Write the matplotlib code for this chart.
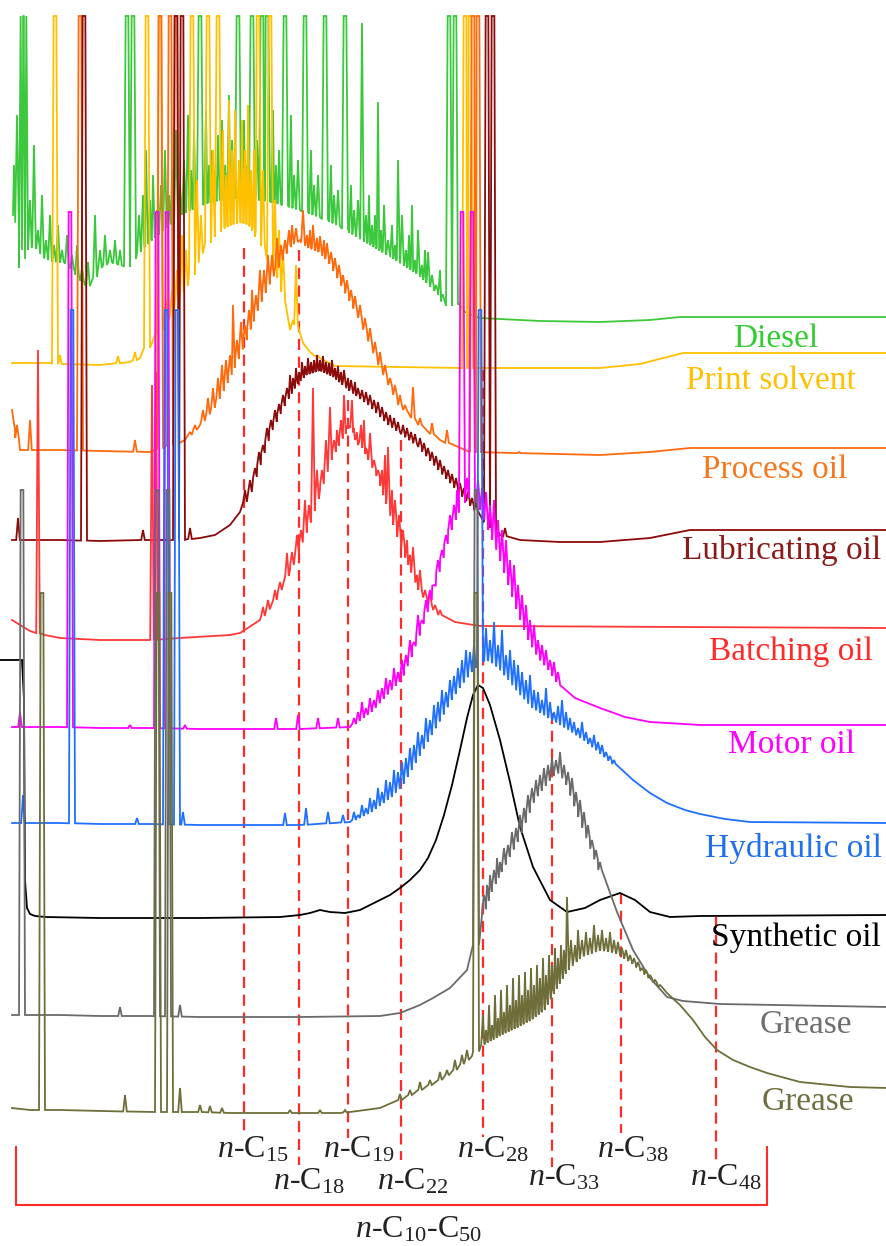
"""Stacked GC-FID chromatograms of ten oil products with n-alkane markers."""

import matplotlib.pyplot as plt
import numpy as np

# ---------------------------------------------------------------------------
# Data.  x = retention position, y = row of the trace
# (top of the picture = 0).  Each trace: a baseline/hump envelope, a list of
# resolved spikes (x, top) and a list of peaks that run off-scale (clipped).
# ---------------------------------------------------------------------------

# Diesel
DIESEL_X = [13, 14, 16, 19, 25, 35, 45, 55, 65, 75, 85, 90, 100, 110, 120, 126,
            136, 145, 160, 180, 200, 220, 240, 260, 280, 300, 320, 340, 360,
            380, 400, 420, 440, 447, 452, 458, 465, 480, 540, 600, 650, 680, 887]
DIESEL_Y = [215, 165, 200, 268, 250, 245, 258, 262, 262, 272, 285, 286, 268, 262,
            265, 268, 255, 245, 232, 215, 205, 200, 198, 200, 204, 210, 217, 226,
            238, 250, 262, 275, 295, 310, 300, 305, 312, 318, 321, 322, 320, 317, 317]
DIESEL_SPIKE_X = [17, 30, 34, 38, 42, 46, 50, 54, 58, 62, 67, 72, 77, 82, 88, 95,
                  100, 105, 110, 115, 120, 139, 143, 146, 150, 153, 157, 161, 165,
                  169, 172, 176, 180, 184, 188, 191, 194, 206, 209, 212, 215, 218,
                  222, 225, 229, 232, 244, 247, 257, 273, 276, 279, 291, 294, 298,
                  311, 314, 318, 331, 334, 338, 351, 354, 358, 362, 366, 369, 372,
                  375, 378, 381, 384, 388, 392, 395, 398, 402, 406, 409, 412, 415,
                  418, 422, 425, 428, 432, 436, 440, 443]
DIESEL_SPIKE_TOP = [115, 200, 145, 230, 195, 240, 215, 245, 225, 250, 235, 255, 245,
                    268, 262, 215, 250, 235, 250, 240, 250, 215, 195, 150, 200, 175,
                    210, 185, 150, 195, 170, 130, 185, 160, 115, 170, 130, 110, 165,
                    150, 170, 135, 120, 165, 95, 140, 120, 165, 140, 110, 165, 150,
                    115, 175, 160, 150, 185, 175, 165, 195, 190, 185, 210, 200, 23,
                    215, 195, 225, 215, 102, 230, 205, 240, 225, 245, 160, 215, 250,
                    235, 205, 260, 230, 265, 250, 252, 275, 285, 270, 295]
DIESEL_TALL = [22, 25, 127, 133, 200, 238, 252, 262, 267, 285, 305, 325, 345, 449, 455]

# Print solvent
PRINT_X = [12, 50, 60, 100, 130, 140, 145, 150, 160, 170, 180, 190, 200, 210, 220,
           230, 240, 250, 260, 270, 280, 285, 290, 293, 299, 303, 310, 320, 335,
           460, 600, 640, 683, 887]
PRINT_Y = [363, 363, 364, 365, 362, 358, 350, 345, 330, 315, 295, 280, 255, 240,
           230, 225, 222, 225, 240, 260, 280, 300, 330, 320, 330, 343, 352, 358,
           366, 368, 368, 364, 353, 353]
PRINT_SPIKE_X = [60, 118, 135, 166, 172, 177, 182, 186, 197, 201, 213, 223, 226,
                 229, 232, 235, 239, 242, 245, 248, 251, 254, 263, 275, 279, 283,
                 296, 316]
PRINT_SPIKE_TOP = [355, 356, 352, 300, 290, 270, 235, 250, 180, 215, 150, 130, 175,
                   100, 150, 110, 160, 120, 150, 105, 170, 150, 170, 200, 230, 250,
                   265, 356]
PRINT_TALL = [55, 147, 160, 192, 208, 218, 258, 270, 465, 470]

# Process oil
PROCESS_X = [12, 15, 20, 60, 100, 150, 185, 200, 215, 230, 245, 257, 270, 280, 290,
             300, 310, 320, 330, 340, 360, 380, 400, 420, 440, 470, 600, 650, 690, 887]
PROCESS_Y = [410, 430, 450, 450, 451, 452, 440, 425, 405, 375, 340, 308, 280, 262,
             245, 240, 248, 252, 262, 280, 318, 365, 405, 425, 440, 452, 455, 452,
             448, 448]
PROCESS_SPIKE_X = [17, 30, 135, 190, 195, 203, 208, 213, 218, 222, 226, 230, 233,
                   237, 241, 245, 249, 252, 256, 260, 264, 268, 272, 277, 281, 285,
                   289, 292, 296, 303, 307, 310, 313, 317, 320, 324, 327, 331, 335,
                   339, 343, 347, 351, 355, 360, 365, 370, 375, 380, 385, 390, 395,
                   400, 405, 413, 420, 432, 447, 519]
PROCESS_SPIKE_TOP = [425, 420, 440, 432, 425, 410, 398, 388, 378, 365, 360, 355, 305,
                     340, 322, 325, 310, 290, 295, 270, 270, 255, 255, 238, 245, 240,
                     230, 225, 228, 210, 235, 230, 225, 238, 236, 240, 243, 252, 258,
                     265, 275, 280, 290, 296, 305, 318, 328, 342, 352, 365, 378, 385,
                     395, 405, 387, 418, 423, 430, 452]
PROCESS_TALL = [80, 160, 170, 176, 473, 478]

# Lubricating oil
LUBE_X = [12, 60, 100, 140, 180, 190, 200, 215, 230, 240, 250, 260, 270, 285, 295,
          305, 320, 335, 350, 370, 390, 400, 420, 440, 460, 480, 490, 500, 520,
          560, 600, 650, 690, 887]
LUBE_Y = [540, 540, 541, 540, 540, 539, 538, 535, 525, 512, 492, 462, 432, 402, 385,
          375, 370, 377, 390, 405, 425, 432, 447, 470, 492, 515, 525, 535, 540, 542,
          542, 538, 530, 530]
LUBE_SPIKE_X = [18, 143, 190, 245, 250, 255, 259, 263, 267, 271, 275, 279, 283, 287,
                290, 293, 296, 299, 302, 305, 308, 311, 314, 317, 320, 323, 326, 329,
                332, 335, 338, 341, 344, 348, 351, 355, 358, 362, 366, 370, 374, 378,
                382, 386, 390, 394, 398, 403, 407, 411, 415, 420, 424, 428, 432, 436,
                440, 444, 448, 452, 456, 460, 464, 468, 472, 476, 505]
LUBE_SPIKE_TOP = [518, 530, 528, 490, 480, 468, 452, 445, 428, 420, 410, 404, 395,
                  388, 375, 378, 368, 372, 362, 366, 358, 362, 360, 355, 360, 356,
                  362, 363, 360, 368, 366, 372, 370, 378, 380, 382, 388, 390, 392,
                  395, 400, 402, 407, 412, 415, 418, 422, 425, 428, 432, 434, 438,
                  443, 448, 452, 456, 460, 466, 470, 474, 478, 483, 488, 492, 498,
                  503, 528]
LUBE_TALL = [84, 176, 182, 487, 493]

# Batching oil
BATCH_X = [12, 20, 30, 45, 60, 100, 150, 180, 230, 240, 260, 275, 290, 300, 310, 320,
           330, 340, 350, 360, 370, 380, 390, 400, 410, 420, 430, 440, 455, 480, 887]
BATCH_Y = [620, 625, 631, 635, 638, 640, 640, 638, 635, 633, 620, 600, 570, 545, 520,
           490, 460, 440, 425, 440, 460, 480, 510, 540, 565, 590, 605, 615, 622,
           626, 628]
BATCH_SPIKE_X = [38, 152, 156, 263, 268, 275, 280, 287, 292, 297, 301, 305, 309,
                 313, 317, 322, 326, 330, 334, 337, 341, 344, 348, 352, 355, 358,
                 361, 364, 367, 370, 374, 378, 382, 385, 388, 392, 395, 399, 403,
                 407, 410, 413, 417, 420, 425, 430, 435, 440]
BATCH_SPIKE_TOP = [350, 385, 372, 607, 600, 590, 582, 553, 552, 535, 530, 500, 505,
                   388, 470, 470, 440, 407, 440, 430, 420, 395, 425, 400, 440, 445,
                   425, 420, 450, 433, 460, 470, 470, 455, 447, 490, 500, 515, 530,
                   540, 555, 547, 575, 570, 590, 590, 605, 610]
BATCH_TALL = []

# Motor oil (off-scale peaks flatten at row 212)
MOTOR_X = [12, 60, 100, 150, 200, 250, 300, 350, 370, 390, 400, 410, 420, 430, 440,
           450, 460, 470, 480, 490, 500, 510, 520, 530, 540, 550, 560, 575, 600,
           625, 650, 700, 887]
MOTOR_Y = [727, 727, 728, 728, 729, 729, 729, 727, 712, 690, 680, 657, 630, 600, 565,
           530, 505, 495, 505, 530, 555, 585, 615, 640, 658, 670, 685, 698, 708,
           717, 722, 725, 725]
MOTOR_SPIKE_X = [20, 130, 185, 276, 298, 318, 338, 354, 358, 362, 366, 370, 374,
                 378, 382, 386, 390, 394, 398, 402, 406, 410, 414, 418, 422, 426,
                 430, 434, 438, 442, 446, 450, 454, 457, 467, 478, 482, 486, 490,
                 494, 498, 502, 506, 510, 514, 518, 522, 526, 530, 534, 538, 542,
                 546, 550, 554, 558]
MOTOR_SPIKE_TOP = [712, 725, 725, 718, 715, 718, 718, 718, 712, 702, 708, 698, 700,
                   690, 688, 678, 680, 668, 672, 660, 655, 640, 642, 615, 620, 600,
                   590, 585, 560, 550, 535, 515, 505, 490, 478, 480, 488, 492, 505,
                   500, 520, 530, 540, 560, 565, 585, 595, 605, 620, 625, 640, 645,
                   650, 660, 662, 672]
MOTOR_TALL = [70, 157, 167, 462, 472]

# Hydraulic oil (off-scale peaks flatten at row 310)
HYDRO_X = [12, 60, 100, 150, 200, 250, 300, 350, 370, 390, 400, 410, 420, 430, 440,
           450, 460, 470, 480, 490, 500, 510, 520, 533, 550, 567, 585, 600, 615,
           633, 650, 667, 685, 700, 725, 750, 887]
HYDRO_Y = [823, 823, 824, 824, 825, 825, 825, 822, 812, 797, 787, 770, 752, 735, 718,
           700, 685, 672, 662, 660, 668, 680, 693, 707, 718, 728, 740, 752, 765,
           780, 793, 803, 810, 814, 819, 822, 823]
HYDRO_SPIKE_X = [23, 137, 183, 285, 306, 328, 343, 354, 358, 362, 366, 370, 374, 378,
                 382, 386, 390, 394, 398, 402, 406, 410, 414, 418, 422, 426, 430,
                 434, 438, 442, 446, 450, 454, 458, 462, 466, 470, 474, 486, 490,
                 494, 498, 502, 506, 510, 514, 518, 522, 526, 530, 534, 538, 542,
                 546, 550, 554, 558, 562, 566, 570, 574, 578, 582, 586, 590, 594,
                 598, 602, 606, 610, 614]
HYDRO_SPIKE_TOP = [795, 818, 812, 813, 808, 812, 815, 812, 815, 805, 808, 798, 800,
                   788, 792, 780, 782, 770, 772, 762, 758, 748, 745, 732, 735, 718,
                   720, 705, 702, 690, 692, 680, 676, 668, 660, 650, 652, 645, 628,
                   640, 622, 645, 630, 655, 650, 660, 665, 672, 680, 675, 690, 692,
                   700, 688, 702, 712, 706, 700, 712, 718, 722, 728, 722, 732, 738,
                   735, 742, 745, 752, 756, 760]
HYDRO_TALL = [72, 166, 177, 480]

# Synthetic oil
SYNTH_X = [0, 22, 24, 25, 27, 30, 35, 45, 100, 200, 280, 300, 310, 320, 330, 345, 360,
           370, 380, 390, 400, 410, 420, 428, 436, 444, 452, 460, 467, 473, 478, 483,
           490, 500, 510, 520, 533, 550, 567, 585, 600, 620, 635, 650, 670, 700, 887]
SYNTH_Y = [660, 660, 700, 880, 908, 914, 916, 917, 918, 918, 917, 915, 913, 910, 912,
           913, 910, 905, 900, 895, 888, 880, 870, 858, 840, 815, 785, 750, 718, 695,
           685, 688, 705, 740, 782, 827, 867, 900, 912, 908, 900, 893, 900, 912, 917,
           916, 915]

# Grease (grey, off-scale peaks flatten at row 490)
GREASE1_X = [12, 60, 100, 150, 200, 300, 380, 400, 420, 433, 450, 467, 474, 482, 490,
             500, 517, 533, 550, 557, 567, 583, 600, 617, 633, 650, 667, 683, 720, 887]
GREASE1_Y = [1015, 1015, 1016, 1016, 1017, 1017, 1016, 1013, 1005, 998, 988, 970, 955,
             915, 892, 872, 840, 800, 778, 770, 782, 825, 870, 912, 950, 978, 997,
             1001, 1004, 1007]
GREASE1_SPIKE_X = [120, 180, 484, 487, 490, 494, 497, 500, 504, 508, 512, 516, 520,
                   524, 528, 532, 536, 540, 544, 548, 552, 556, 560, 564, 568, 572,
                   576, 580, 584, 588, 592, 596, 600]
GREASE1_SPIKE_TOP = [1007, 1005, 895, 885, 875, 870, 858, 862, 848, 845, 832, 828,
                     815, 808, 795, 788, 780, 775, 768, 765, 758, 760, 752, 765, 772,
                     778, 792, 800, 812, 825, 840, 850, 862]
GREASE1_TALL = [22, 157, 168, 476]

# Grease (olive, off-scale peaks flatten at row 593)
GREASE2_X = [12, 30, 60, 100, 150, 200, 230, 300, 340, 350, 380, 400, 420, 440, 455,
             467, 472, 482, 500, 517, 530, 543, 553, 565, 580, 600, 617, 633, 650,
             667, 680, 693, 705, 717, 733, 750, 767, 800, 850, 887]
GREASE2_Y = [1108, 1110, 1110, 1111, 1112, 1112, 1113, 1113, 1113, 1112, 1108, 1100,
             1090, 1080, 1070, 1060, 1056, 1045, 1035, 1027, 1020, 1010, 992, 972,
             957, 950, 953, 963, 978, 993, 1005, 1020, 1037, 1050, 1060, 1067, 1073,
             1082, 1087, 1088]
GREASE2_SPIKE_X = [125, 180, 200, 210, 222, 290, 320, 345, 400, 410, 420, 430, 440,
                   447, 455, 462, 467, 483, 486, 489, 492, 495, 498, 501, 504, 507,
                   510, 513, 516, 519, 522, 525, 528, 531, 534, 537, 540, 543, 546,
                   549, 552, 555, 558, 561, 564, 567, 571, 575, 578, 582, 586, 590,
                   594, 598, 602, 606, 610, 614, 618, 622, 626, 630, 634, 638, 642,
                   646, 650, 655, 660]
GREASE2_SPIKE_TOP = [1095, 1088, 1105, 1106, 1108, 1110, 1110, 1110, 1094, 1090,
                     1082, 1080, 1072, 1070, 1060, 1055, 1050, 1015, 1030, 1005, 1025,
                     995, 1018, 990, 1012, 985, 1005, 978, 1000, 975, 995, 972, 990,
                     968, 985, 965, 978, 958, 975, 955, 965, 948, 958, 945, 950, 897,
                     940, 945, 930, 940, 932, 938, 925, 935, 930, 938, 932, 940, 942,
                     948, 950, 955, 958, 962, 968, 970, 975, 980, 985]
GREASE2_TALL = [42, 158, 170, 476]

# off-scale levels (row where a saturated peak is cut)
CEILINGS = [16, 16, 16, 16, 16, 212, 310, 16, 490, 593]

TRACE_NAMES = ["Diesel", "Print solvent", "Process oil", "Lubricating oil",
               "Batching oil", "Motor oil", "Hydraulic oil", "Synthetic oil",
               "Grease", "Grease"]

# n-alkane markers
ALKANE_C = ["15", "18", "19", "22", "28", "33", "38", "48"]
ALKANE_X = [244, 299, 348, 401, 483, 552, 621, 716]
ALKANE_TOP = [248, 250, 400, 440, 370, 713, 893, 917]
ALKANE_BOTTOM = [1135, 1165, 1138, 1160, 1137, 1167, 1133, 1160]

# ---------------------------------------------------------------------------
# Styles
# ---------------------------------------------------------------------------
LINE_COLORS = ["#3CC83C", "#FFC000", "#FF6A0D", "#8B0A0A", "#FF3838",
               "#FF00FF", "#2070FF", "#000000", "#6A6A6A", "#6E6E3A"]
TEXT_COLORS = ["#33CC33", "#FFC000", "#F5781E", "#8B1A1A", "#FF2B2B",
               "#FF00FF", "#1F6FEF", "#000000", "#6E6E6E", "#6E6E40"]
LABEL_POS = [(776, 347), (771, 389), (775, 478), (782, 559), (791, 660),
             (792, 753), (793, 857), (796, 946), (806, 1033), (808, 1110)]
ALKANE_LABEL_POS = [(217, 1157), (273, 1190), (323, 1157), (377, 1190),
                    (457, 1158), (528, 1185), (597, 1157), (690, 1185)]
RED = "#FF2A2A"
SPIKE_HW = 1.8
TALL_HW = 3.0
SERIF = "Liberation Serif"

plt.rcParams["mathtext.fontset"] = "custom"
plt.rcParams["mathtext.rm"] = SERIF
plt.rcParams["mathtext.it"] = SERIF + ":italic"


def build_trace(ex, ey, sx, st, tall, ceil):
    """Envelope + spikes + off-scale peaks -> polyline vertices."""
    ex = np.asarray(ex, float)
    ey = np.asarray(ey, float)
    peaks = [(x, t, SPIKE_HW, 0.0) for x, t in zip(sx, st)]
    peaks += [(x, ceil, TALL_HW, TALL_HW * 0.45) for x in tall]
    keep = np.ones(len(ex), bool)
    for x, _, w, _ in peaks:
        keep &= ~((ex > x - w) & (ex < x + w))
    px, py = list(ex[keep]), list(ey[keep])
    for x, t, w, f in peaks:
        b = np.interp(x, ex, ey)
        px += [x - w, x - f, x + f, x + w]
        py += [b, t, t, b]
    order = np.argsort(px, kind="stable")
    px = np.asarray(px)[order]
    py = np.maximum(np.asarray(py)[order], ceil)
    return px, py


def main():
    fig = plt.figure(figsize=(8.87, 12.46), dpi=100)
    ax = fig.add_axes([0, 0, 1, 1])
    ax.set_xlim(0, 887)
    ax.set_ylim(1246, 0)
    ax.axis("off")

    traces = [
        (DIESEL_X, DIESEL_Y, DIESEL_SPIKE_X, DIESEL_SPIKE_TOP, DIESEL_TALL),
        (PRINT_X, PRINT_Y, PRINT_SPIKE_X, PRINT_SPIKE_TOP, PRINT_TALL),
        (PROCESS_X, PROCESS_Y, PROCESS_SPIKE_X, PROCESS_SPIKE_TOP, PROCESS_TALL),
        (LUBE_X, LUBE_Y, LUBE_SPIKE_X, LUBE_SPIKE_TOP, LUBE_TALL),
        (BATCH_X, BATCH_Y, BATCH_SPIKE_X, BATCH_SPIKE_TOP, BATCH_TALL),
        (MOTOR_X, MOTOR_Y, MOTOR_SPIKE_X, MOTOR_SPIKE_TOP, MOTOR_TALL),
        (HYDRO_X, HYDRO_Y, HYDRO_SPIKE_X, HYDRO_SPIKE_TOP, HYDRO_TALL),
        (SYNTH_X, SYNTH_Y, [], [], []),
        (GREASE1_X, GREASE1_Y, GREASE1_SPIKE_X, GREASE1_SPIKE_TOP, GREASE1_TALL),
        (GREASE2_X, GREASE2_Y, GREASE2_SPIKE_X, GREASE2_SPIKE_TOP, GREASE2_TALL),
    ]

    # red n-alkane markers behind the traces
    for x, top, bot in zip(ALKANE_X, ALKANE_TOP, ALKANE_BOTTOM):
        ax.plot([x, x], [top, bot], color=RED, lw=1.6, dashes=(5, 3), zorder=1)

    for i, (ex, ey, sx, st, tall) in enumerate(traces):
        px, py = build_trace(ex, ey, sx, st, tall, CEILINGS[i])
        ax.plot(px, py, color=LINE_COLORS[i], lw=1.3, zorder=2 + i * 0.1,
                solid_joinstyle="miter")
        lx, ly = LABEL_POS[i]
        ax.text(lx, ly, TRACE_NAMES[i], color=TEXT_COLORS[i], fontsize=24,
                family=SERIF, ha="center", va="baseline", zorder=5)

    for c, (lx, ly) in zip(ALKANE_C, ALKANE_LABEL_POS):
        ax.text(lx, ly, r"$n$-C$_{%s}$" % c, fontsize=23, family=SERIF,
                ha="left", va="baseline", color="#222222", zorder=5)

    # bracket spanning the C10-C50 range
    ax.plot([16, 16, 767, 767], [1147, 1205, 1205, 1147], color=RED, lw=1.5,
            solid_joinstyle="miter")
    ax.text(355, 1237, r"$n$-C$_{10}$-C$_{50}$", fontsize=23, family=SERIF,
            ha="left", va="baseline", color="#222222")

    fig.savefig("out.png", dpi=100, facecolor="white")
    plt.close(fig)


if __name__ == "__main__":
    main()
